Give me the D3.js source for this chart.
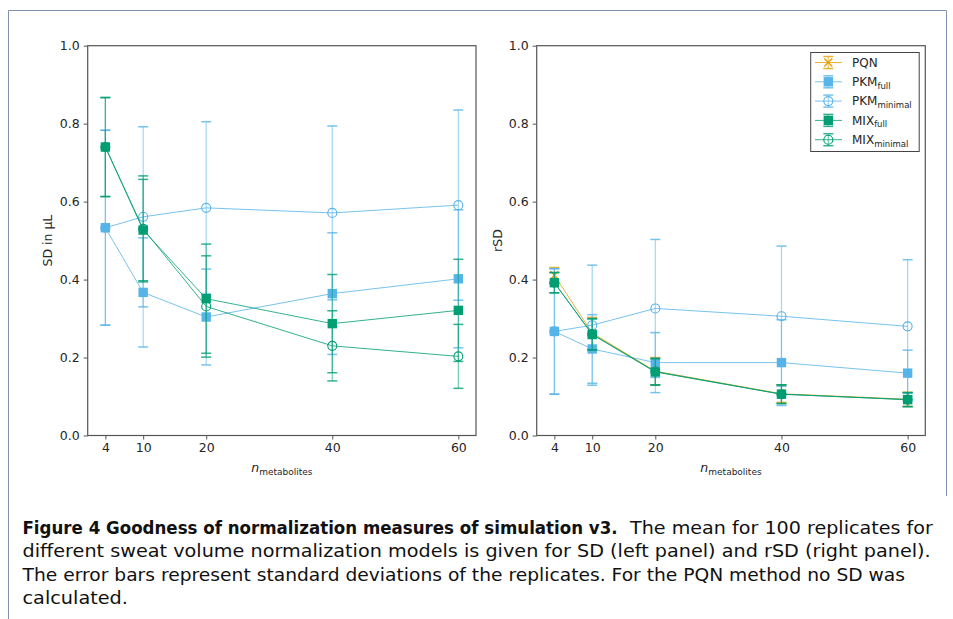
<!DOCTYPE html>
<html>
<head>
<meta charset="utf-8">
<script src="https://cdn.jsdelivr.net/npm/d3@7"></script>
<style>
  html, body { margin: 0; padding: 0; background: #fff; }
  svg { display: block; }
  text { font-family: "DejaVu Sans", sans-serif; }
</style>
</head>
<body>
<svg id="fig" width="953" height="619"></svg>
<script>
// Number of metabolites used in the simulation
const nMetabolites = [4, 10, 20, 40, 60];

// Left panel: mean SD (µL) over 100 replicates, with its standard deviation
const pkmFullSD      = [0.533, 0.367, 0.304, 0.364, 0.402];
const pkmFullSDErr   = [0.250, 0.140, 0.123, 0.156, 0.177];
const pkmMinimalSD   = [0.533, 0.561, 0.584, 0.571, 0.591];
const pkmMinimalSDErr= [0.250, 0.231, 0.221, 0.223, 0.244];
const mixFullSD      = [0.740, 0.527, 0.351, 0.287, 0.321];
const mixFullSDErr   = [0.127, 0.130, 0.140, 0.126, 0.131];
const mixMinimalSD   = [0.740, 0.530, 0.331, 0.230, 0.203];
const mixMinimalSDErr= [0.127, 0.136, 0.130, 0.090, 0.082];

// Right panel: mean rSD over 100 replicates, with its standard deviation
const pqnRSD          = [0.411, 0.263, 0.165, 0.107, 0.093];
const pqnRSDErr       = [0.020, 0.040, 0.035, 0.022, 0.018];
const pkmFullRSD      = [0.267, 0.222, 0.187, 0.187, 0.160];
const pkmFullRSDErr   = [0.161, 0.088, 0.077, 0.110, 0.059];
const pkmMinimalRSD   = [0.267, 0.283, 0.326, 0.306, 0.280];
const pkmMinimalRSDErr= [0.161, 0.154, 0.177, 0.180, 0.171];
const mixFullRSD      = [0.392, 0.259, 0.163, 0.106, 0.092];
const mixFullRSDErr   = [0.026, 0.040, 0.034, 0.024, 0.018];
const mixMinimalRSD   = [0.392, 0.260, 0.164, 0.106, 0.092];
const mixMinimalRSDErr= [0.026, 0.040, 0.034, 0.024, 0.018];

// Axis ticks
const xTicks = [4, 10, 20, 40, 60];
const yTicks = [0.0, 0.2, 0.4, 0.6, 0.8, 1.0];

// Series styling (name, subscript, colour, marker)
const seriesNames = ["PQN", "PKM", "PKM", "MIX", "MIX"];
const seriesSubs  = ["", "full", "minimal", "full", "minimal"];
const seriesColors= ["#E69F00", "#56B4E9", "#56B4E9", "#009E73", "#009E73"];
const seriesMarks = ["x", "square", "circle", "square", "circle"];

// Caption
const captionBold = "Figure 4  Goodness of normalization measures of simulation v3.";
const captionLines = [
  "The mean for 100 replicates for",
  "different sweat volume normalization models is given for SD (left panel) and rSD (right panel).",
  "The error bars represent standard deviations of the replicates. For the PQN method no SD was",
  "calculated."
];

const svg = d3.select("#fig");
svg.append("rect").attr("width", 953).attr("height", 619).attr("fill", "#fff");

// page frame
svg.append("path")
  .attr("d", "M8.5,619 L8.5,10.5 L946.5,10.5 L946.5,496")
  .attr("fill", "none").attr("stroke", "#8092ad").attr("stroke-width", 1);

const panels = [
  { x0: 87.7, x1: 476, ylab: "SD in µL", labX: 47.5,
    series: [
      null,
      [pkmFullSD, pkmFullSDErr],
      [pkmMinimalSD, pkmMinimalSDErr],
      [mixFullSD, mixFullSDErr],
      [mixMinimalSD, mixMinimalSDErr]
    ] },
  { x0: 536.7, x1: 925.3, ylab: "rSD", labX: 497.5,
    series: [
      [pqnRSD, pqnRSDErr],
      [pkmFullRSD, pkmFullRSDErr],
      [pkmMinimalRSD, pkmMinimalRSDErr],
      [mixFullRSD, mixFullRSDErr],
      [mixMinimalRSD, mixMinimalRSDErr]
    ], legend: true }
];
const axTop = 45.7, axBottom = 435.5;

function drawMarker(g, kind, cx, cy, color) {
  if (kind === "square") {
    g.append("rect").attr("x", cx - 4.7).attr("y", cy - 4.7)
      .attr("width", 9.4).attr("height", 9.4).attr("fill", color);
  } else if (kind === "circle") {
    g.append("circle").attr("cx", cx).attr("cy", cy).attr("r", 4.5)
      .attr("fill", "none").attr("stroke", color).attr("stroke-width", 1.1);
  } else {
    g.append("path")
      .attr("d", `M${cx-4},${cy-4}L${cx+4},${cy+4}M${cx-4},${cy+4}L${cx+4},${cy-4}`)
      .attr("stroke", color).attr("stroke-width", 1.3);
  }
}

panels.forEach(p => {
  const x = d3.scaleLinear().domain([1.2, 62.8]).range([p.x0, p.x1]);
  const y = d3.scaleLinear().domain([0, 1]).range([axBottom, axTop]);
  const g = svg.append("g");

  // series: error bars, then connecting line and markers
  p.series.forEach((s, i) => {
    if (!s) return;
    const [vals, errs] = s;
    const col = seriesColors[i];
    const sg = g.append("g");
    nMetabolites.forEach((n, j) => {
      const cx = x(n);
      sg.append("line").attr("x1", cx).attr("x2", cx)
        .attr("y1", y(vals[j] - errs[j])).attr("y2", y(vals[j] + errs[j]))
        .attr("stroke", col).attr("stroke-opacity", 0.55).attr("stroke-width", 1.2);
      [vals[j] - errs[j], vals[j] + errs[j]].forEach(v => {
        sg.append("line").attr("x1", cx - 5).attr("x2", cx + 5)
          .attr("y1", y(v)).attr("y2", y(v))
          .attr("stroke", col).attr("stroke-opacity", 0.8).attr("stroke-width", 1.5);
      });
    });
    sg.append("path")
      .datum(nMetabolites.map((n, j) => [n, vals[j]]))
      .attr("d", d3.line().x(d => x(d[0])).y(d => y(d[1])))
      .attr("fill", "none").attr("stroke", col)
      .attr("stroke-opacity", 0.8).attr("stroke-width", 1);
    nMetabolites.forEach((n, j) => drawMarker(sg, seriesMarks[i], x(n), y(vals[j]), col));
  });

  // axes
  const xa = g.append("g").attr("transform", `translate(0,${axBottom})`)
    .call(d3.axisBottom(x).tickValues(xTicks).tickSize(4).tickPadding(4));
  const ya = g.append("g").attr("transform", `translate(${p.x0},0)`)
    .call(d3.axisLeft(y).tickValues(yTicks).tickFormat(d3.format(".1f")).tickSize(4).tickPadding(4));
  [xa, ya].forEach(a => {
    a.select(".domain").remove();
    a.selectAll(".tick line").attr("stroke", "#555");
    a.selectAll(".tick text").attr("fill", "#262626").style("font-size", "12.5px")
      .style("font-family", "DejaVu Sans, sans-serif");
  });
  g.append("rect").attr("x", p.x0).attr("y", axTop)
    .attr("width", p.x1 - p.x0).attr("height", axBottom - axTop)
    .attr("fill", "none").attr("stroke", "#555").attr("stroke-width", 1.2);

  // axis labels
  g.append("text")
    .attr("transform", `translate(${p.labX},${(axTop + axBottom) / 2}) rotate(-90)`)
    .attr("text-anchor", "middle").attr("dominant-baseline", "central")
    .attr("fill", "#262626").style("font-size", "12.5px").text(p.ylab);
  const xl = g.append("text")
    .attr("x", (p.x0 + p.x1) / 2).attr("y", 472)
    .attr("text-anchor", "middle").attr("fill", "#262626").style("font-size", "12.5px");
  xl.append("tspan").style("font-style", "italic").text("n");
  xl.append("tspan").attr("dy", 3).style("font-size", "9px").text("metabolites");

  // legend
  if (p.legend) {
    const lg = g.append("g");
    lg.append("rect").attr("x", 810.7).attr("y", 52.5).attr("width", 108.5).attr("height", 99)
      .attr("fill", "#fff").attr("stroke", "#444").attr("stroke-width", 1);
    seriesNames.forEach((nm, i) => {
      const cy = 62.5 + i * 19.3, cx = 828.3, col = seriesColors[i];
      lg.append("line").attr("x1", 815).attr("x2", 842).attr("y1", cy).attr("y2", cy)
        .attr("stroke", col).attr("stroke-opacity", 0.8).attr("stroke-width", 1);
      lg.append("line").attr("x1", cx).attr("x2", cx).attr("y1", cy - 6).attr("y2", cy + 6)
        .attr("stroke", col).attr("stroke-opacity", 0.55).attr("stroke-width", 1.2);
      [cy - 6, cy + 6].forEach(v => lg.append("line").attr("x1", cx - 5).attr("x2", cx + 5)
        .attr("y1", v).attr("y2", v).attr("stroke", col).attr("stroke-opacity", 0.8).attr("stroke-width", 1.5));
      drawMarker(lg, seriesMarks[i], cx, cy, col);
      const t = lg.append("text").attr("x", 852).attr("y", cy + 4.3)
        .attr("fill", "#262626").style("font-size", "12px");
      t.append("tspan").text(nm);
      if (seriesSubs[i]) t.append("tspan").attr("dy", 2.5).style("font-size", "8.5px").text(seriesSubs[i]);
    });
  }
});

// caption: bold title, then running text on four lines; each line is
// squeezed horizontally so it spans its column exactly
const capG = svg.append("g").style("font-family", "'DejaVu Sans Condensed', 'Liberation Sans Narrow', sans-serif")
  .style("font-size", "18.5px").attr("fill", "#111");
function fitLine(txt, x0, x1, yBase, bold) {
  const t = capG.append("text").attr("x", 0).attr("y", 0).text(txt);
  if (bold) t.style("font-weight", "bold");
  const natural = t.node().getComputedTextLength();
  t.attr("transform", `translate(${x0},${yBase}) scale(${(x1 - x0) / natural},1)`);
}
const capStarts = [630, 22.5, 22.5, 22.5];
const capEnds = [933, 931, 906, 128];
fitLine(captionBold, 22.5, 618, 533.5, true);
captionLines.forEach((line, i) => fitLine(line, capStarts[i], capEnds[i], 533.5 + i * 23.6, false));
</script>
</body>
</html>
